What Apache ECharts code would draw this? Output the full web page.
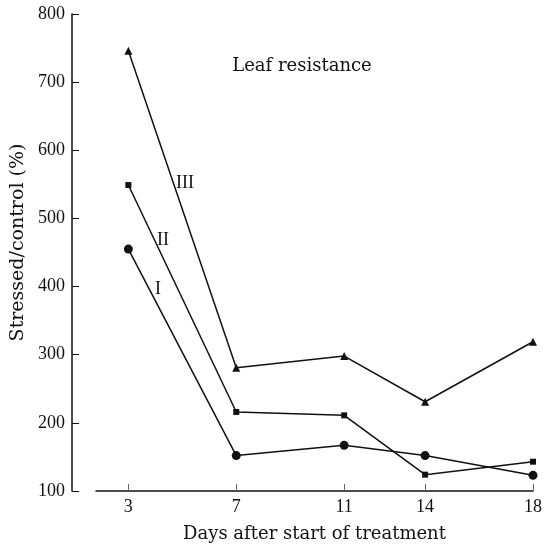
<!DOCTYPE html>
<html>
<head>
<meta charset="utf-8">
<script src="https://cdn.jsdelivr.net/npm/echarts@6/dist/echarts.min.js"></script>
<style>
  html, body { margin: 0; padding: 0; background: #fff; }
  #chart { width: 551px; height: 544px; }
</style>
</head>
<body>
<div id="chart"></div>
<script>
// days after start of treatment
var days = [3, 7, 11, 14, 18];
// stressed / control (%)
var seriesI = [455, 152, 167, 152, 123];
var seriesII = [549, 216, 211, 124, 143];
var seriesIII = [746, 281, 298, 231, 319];

var NUM_FONT = '"Liberation Serif", serif';
var TXT_FONT = '"DejaVu Serif", serif';

var pairs = function (vals) {
    var res = [];
    for (var i = 0; i < days.length; i++) {
        res.push([days[i], vals[i]]);
    }
    return res;
};

var chart = echarts.init(document.getElementById('chart'));

var lineSeries = function (name, vals, symbol, size) {
    return {
        name: name,
        type: 'line',
        data: pairs(vals),
        symbol: symbol,
        symbolSize: size,
        showAllSymbol: true,
        lineStyle: { color: '#111', width: 1.5 },
        itemStyle: { color: '#111' },
        animation: false
    };
};

var txt = function (s, x, y, font) {
    return {
        type: 'text',
        x: x,
        y: y,
        style: { text: s, font: font, fill: '#111', align: 'center', verticalAlign: 'middle' }
    };
};

var option = {
    backgroundColor: '#fff',
    grid: { left: 96, right: 18, top: 14, bottom: 53, outerBoundsMode: 'none' },
    xAxis: {
        type: 'value',
        min: 1.8,
        max: 18,
        name: 'Days after start of treatment',
        nameLocation: 'middle',
        nameGap: 34,
        nameTextStyle: { fontFamily: TXT_FONT, fontSize: 18, color: '#111' },
        splitLine: { show: false },
        axisLine: { lineStyle: { color: '#111', width: 1.5 } },
        axisTick: {
            inside: true,
            length: 7,
            customValues: days,
            lineStyle: { color: '#666', width: 1 }
        },
        axisLabel: {
            customValues: days,
            margin: 7,
            fontFamily: NUM_FONT,
            fontSize: 18,
            color: '#111'
        }
    },
    yAxis: {
        type: 'value',
        min: 100,
        max: 800,
        interval: 100,
        offset: 24,
        name: 'Stressed/control (%)',
        nameLocation: 'middle',
        nameGap: 39,
        nameTextStyle: {
            fontFamily: TXT_FONT,
            fontSize: 19,
            color: '#111',
            padding: [0, 0, 0, 20]
        },
        splitLine: { show: false },
        axisLine: { show: true, lineStyle: { color: '#111', width: 1.5 } },
        axisTick: { inside: true, length: 7, lineStyle: { color: '#111' } },
        axisLabel: {
            margin: 7,
            fontFamily: NUM_FONT,
            fontSize: 18,
            color: '#111'
        }
    },
    graphic: [
        txt('Leaf resistance', 302, 66, '18px ' + TXT_FONT),
        txt('III', 185, 183, '18px ' + NUM_FONT),
        txt('II', 163, 240, '18px ' + NUM_FONT),
        txt('I', 158, 289, '18px ' + NUM_FONT)
    ],
    series: [
        lineSeries('I', seriesI, 'circle', 9),
        lineSeries('II', seriesII, 'rect', 6),
        lineSeries('III', seriesIII, 'triangle', 8)
    ]
};

chart.setOption(option);
</script>
</body>
</html>
